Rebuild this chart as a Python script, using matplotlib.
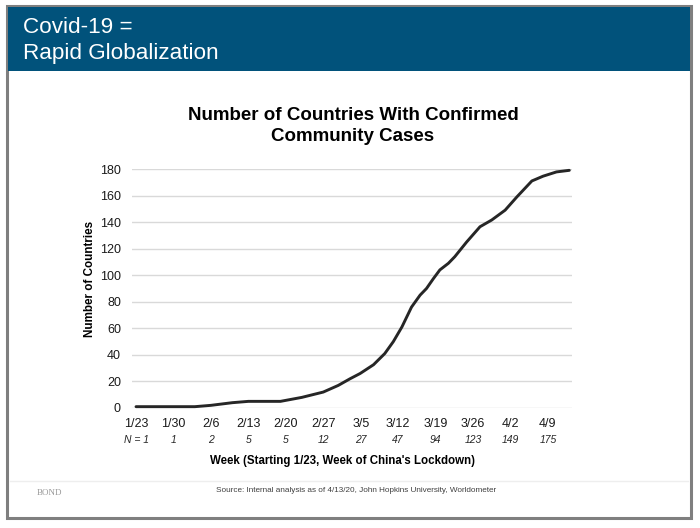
import numpy as np
import matplotlib.pyplot as plt
from matplotlib.patches import Rectangle
from matplotlib.lines import Line2D
import matplotlib.transforms as mtransforms

plt.rcParams['font.family'] = ['Liberation Sans', 'DejaVu Sans']

# Datos (días desde 1/23, número de países)
days = [0, 8, 11, 14, 18, 21, 27, 31, 33, 35, 37.8, 40, 41.9, 44.4, 46.5, 48.1,
        49.7, 51.5, 53.1, 54.3, 55.6, 56.8, 58.4, 59.6, 61.8, 64.3, 66.5, 69,
        71.2, 74, 76.1, 78.6, 81]
countries = [1, 1, 1, 2, 4, 5, 5, 8, 10, 12, 17, 22, 26, 32.6, 41, 50,
             61, 76, 85, 90, 97.5, 104, 109, 114, 125, 136.5, 141.6, 149,
             159, 171, 174.6, 177.8, 179]

week_labels = ["1/23", "1/30", "2/6", "2/13", "2/20", "2/27", "3/5", "3/12",
               "3/19", "3/26", "4/2", "4/9"]
week_n = ["N = 1", "1", "2", "5", "5", "12", "27", "47", "94", "123", "149", "175"]
y_ticks = [0, 20, 40, 60, 80, 100, 120, 140, 160, 180]

W, H = 700, 528
fig = plt.figure(figsize=(7, 5.28), dpi=100)


def fx(px):
    return px / W


def fy(py):
    return 1 - py / H


# Marco gris y cabecera azul
fig.patches.append(Rectangle((fx(7), fy(518)), fx(684), 512 / H, transform=fig.transFigure,
                             facecolor='white', edgecolor='#7f7f7f', linewidth=2.2, zorder=-10))
fig.patches.append(Rectangle((fx(8), fy(71)), fx(682), 64 / H, transform=fig.transFigure,
                             facecolor='#01527b', edgecolor='none', zorder=-9))
fig.text(fx(23), fy(27.5), "Covid-19 =", color='white', fontsize=16.2, va='center', ha='left')
fig.text(fx(23), fy(54), "Rapid Globalization", color='white', fontsize=16.2, va='center', ha='left')

# Título del gráfico
fig.text(fx(353), fy(126), "Number of Countries With Confirmed\nCommunity Cases",
         fontsize=13.5, fontweight='bold', ha='center', va='center', linespacing=1.35, color='black')

# Ejes
ax = fig.add_axes([fx(132), fy(408), fx(440), 239 / H])
ax.plot(days, countries, color='#262626', linewidth=2.1, clip_on=False, solid_capstyle='round')
ax.set_xlim(-0.75, 81.5)
ax.set_ylim(0, 180)
ax.set_yticks(y_ticks)
ax.set_xticks([7 * i for i in range(len(week_labels))])
ax.set_xticklabels(week_labels)
ax.tick_params(axis='both', length=0, labelsize=9, colors='#1a1a1a')
ax.tick_params(axis='x', pad=7)
ax.tick_params(axis='y', pad=8)
ax.yaxis.grid(True, color='#d9d9d9', linewidth=1)
ax.set_axisbelow(True)
for s in ax.spines.values():
    s.set_visible(False)
ax.set_facecolor('none')

ax.set_ylabel("Number of Countries", fontsize=8.4, fontweight='bold')
ax.yaxis.set_label_coords(-0.082, 0.54)

# Fila N
trans = mtransforms.blended_transform_factory(ax.transData, fig.transFigure)
for i, n in enumerate(week_n):
    ax.text(7 * i, fy(440), n, transform=trans, fontsize=7.5, style='italic',
            ha='center', va='center', color='#262626')

fig.text(fx(342), fy(461), "Week (Starting 1/23, Week of China's Lockdown)",
         fontsize=8.3, fontweight='bold', ha='center', va='center')

# Pie
fig.lines.append(Line2D([fx(10), fx(688)], [fy(481), fy(481)], transform=fig.transFigure,
                        color='#eeeeee', linewidth=1, zorder=-8))
fig.text(fx(356), fy(491), "Source: Internal analysis as of 4/13/20, John Hopkins University, Worldometer",
         fontsize=5.9, ha='center', va='center', color='#404040')
fig.text(fx(37), fy(493), "BOND", fontsize=6.5, family='Liberation Serif', ha='left', va='center',
         color='#999999')

plt.savefig("out.png", dpi=100)
